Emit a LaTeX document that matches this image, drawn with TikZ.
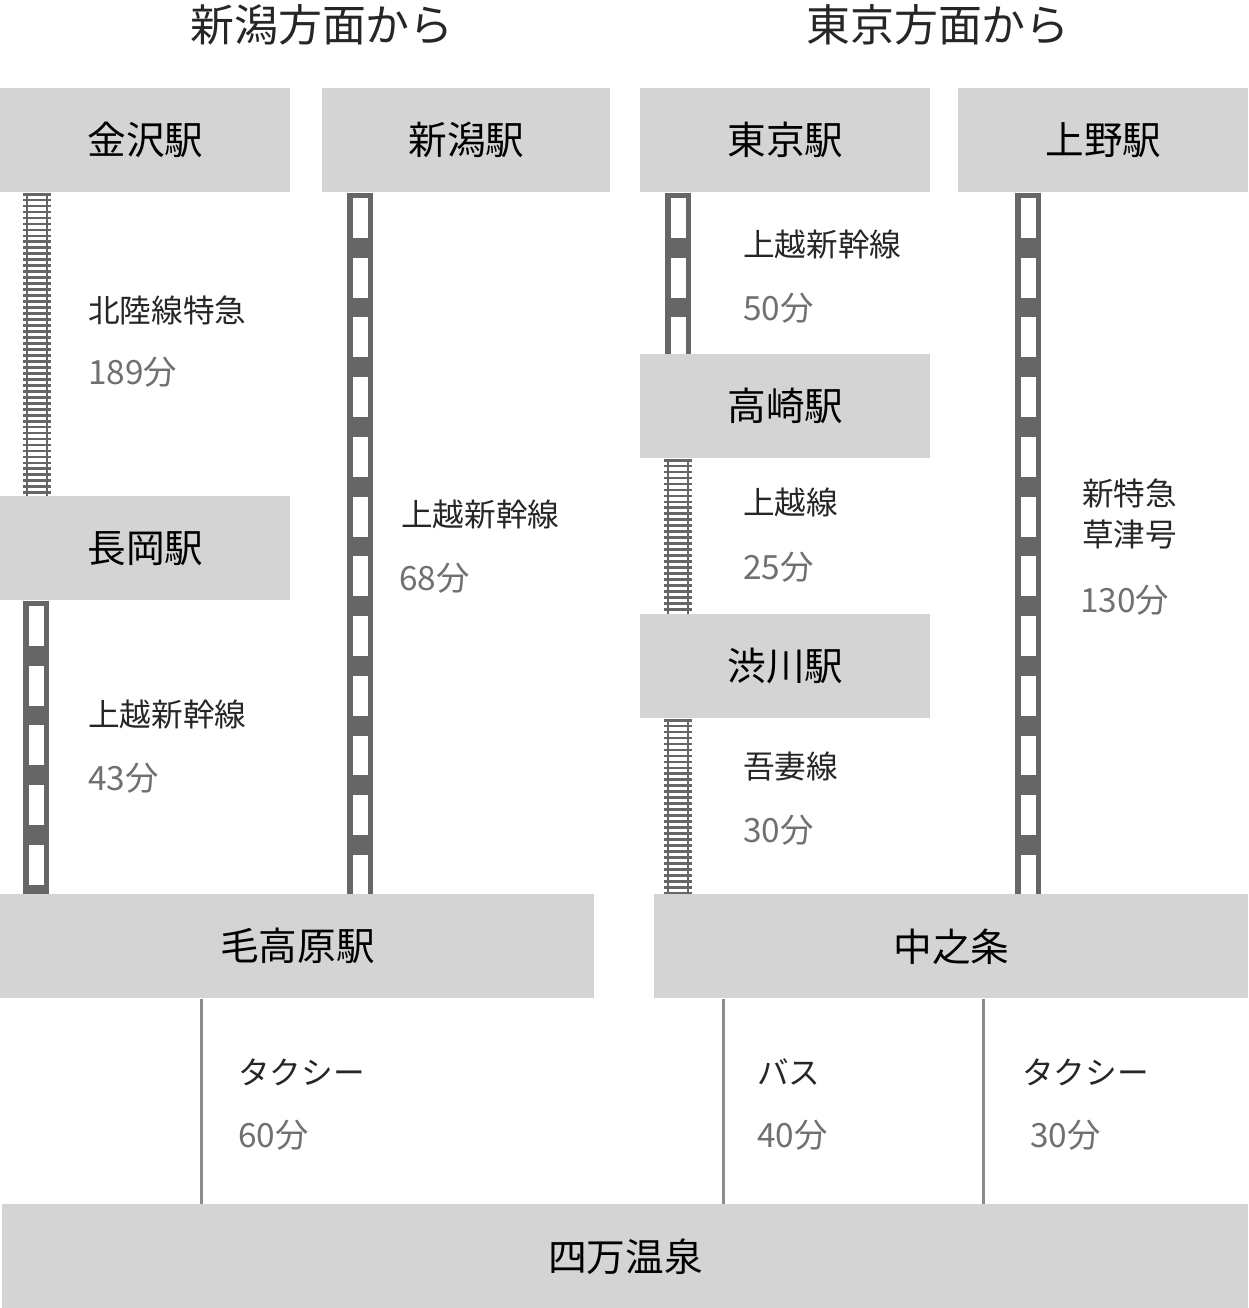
\documentclass[tikz,border=0pt]{standalone}
\usepackage{fontspec}
\setmainfont{Noto Sans CJK JP}
\definecolor{boxgray}{HTML}{D4D4D4}
\definecolor{railgray}{HTML}{666666}
\definecolor{numgray}{HTML}{707070}
\begin{document}
\begin{tikzpicture}[
	x=0.02cm, y=-0.02cm,
	station/.style={anchor=north west, fill=boxgray, inner sep=0pt, minimum height=104*0.02cm, font=\fontsize{22}{22}\selectfont},
	title/.style={font=\fontsize{25}{25}\selectfont, text=black!85},
	label/.style={anchor=west, font=\fontsize{18}{18}\selectfont, text=black!85},
	time/.style={anchor=west, font=\fontsize{19}{19}\selectfont, text=numgray},
	conv/.style={railgray, line width=28*0.02cm, dash pattern=on 1.6pt off 1.8pt},
	convrail/.style={railgray, line width=1.2pt},
	shin/.style={railgray, line width=26*0.02cm},
	shinwhite/.style={white, line width=15*0.02cm, dash pattern=on 22.7pt off 11.3pt, dash phase=-3pt},
	road/.style={draw=black!45, line width=3*0.02cm}
	]
	\useasboundingbox (0,0) rectangle (1248,1308);

	% Titles
	\node[title] (ttl1) at (322,25) {新潟方面から};
	\node[title] (ttl2) at (938,25) {東京方面から};

	% Stations
	\node[station, minimum width=290*0.02cm] (kanazawa) at (0,88) {金沢駅};
	\node[station, minimum width=288*0.02cm] (niigata) at (322,88) {新潟駅};
	\node[station, minimum width=290*0.02cm] (tokyo) at (640,88) {東京駅};
	\node[station, minimum width=290*0.02cm] (ueno) at (958,88) {上野駅};
	\node[station, minimum width=290*0.02cm] (nagaoka) at (0,496) {長岡駅};
	\node[station, minimum width=290*0.02cm] (takasaki) at (640,354) {高崎駅};
	\node[station, minimum width=290*0.02cm] (shibukawa) at (640,614) {渋川駅};
	\node[station, minimum width=594*0.02cm] (jomokogen) at (0,894) {毛高原駅};
	\node[station, minimum width=594*0.02cm] (nakanojo) at (654,894) {中之条};
	\node[station, minimum width=1246*0.02cm] (shima) at (2,1204) {四万温泉};

	% Conventional lines
	\foreach \xx/\a/\b in {37/kanazawa/nagaoka, 678/takasaki/shibukawa, 678/shibukawa/nakanojo} {
		\draw[conv] (\xx,0 |- \a.south) -- (\xx,0 |- \b.north);
		\draw[convrail] (\xx-10,0 |- \a.south) -- (\xx-10,0 |- \b.north);
		\draw[convrail] (\xx+10,0 |- \a.south) -- (\xx+10,0 |- \b.north);
	}

	% Shinkansen lines
	\foreach \xx/\a/\b in {36/nagaoka/jomokogen, 360/niigata/jomokogen, 678/tokyo/takasaki, 1028/ueno/nakanojo} {
		\draw[shin] (\xx,0 |- \a.south) -- (\xx,0 |- \b.north);
		\draw[shinwhite] (\xx,0 |- \a.south) -- (\xx,0 |- \b.north);
	}

	% Roads
	\draw[road] (201,0 |- jomokogen.south) -- (201,0 |- shima.north);
	\draw[road] (723,0 |- nakanojo.south) -- (723,0 |- shima.north);
	\draw[road] (983,0 |- nakanojo.south) -- (983,0 |- shima.north);

	% Labels
	\node[label] (l1) at (82,310) {北陸線特急};
	\node[time] (t1) at (82,372) {189分};
	\node[label] (l2) at (395,515) {上越新幹線};
	\node[time] (t2) at (393,578) {68分};
	\node[label] (l3) at (82,715) {上越新幹線};
	\node[time] (t3) at (82,778) {43分};
	\node[label] (l4) at (737,245) {上越新幹線};
	\node[time] (t4) at (737,308) {50分};
	\node[label] (l5) at (737,502) {上越線};
	\node[time] (t5) at (737,567) {25分};
	\node[label] (l6) at (737,767) {吾妻線};
	\node[time] (t6) at (737,830) {30分};
	\node[label, align=left, font=\fontsize{18}{23}\selectfont] (l7) at (1076,514) {新特急\\草津号};
	\node[time] (t7) at (1074,600) {130分};
	\node[label] (l8) at (232,1072) {タクシー};
	\node[time] (t8) at (232,1135) {60分};
	\node[label] (l9) at (751,1072) {バス};
	\node[time] (t9) at (751,1135) {40分};
	\node[label] (l10) at (1016,1072) {タクシー};
	\node[time] (t10) at (1024,1135) {30分};
\end{tikzpicture}
\end{document}
